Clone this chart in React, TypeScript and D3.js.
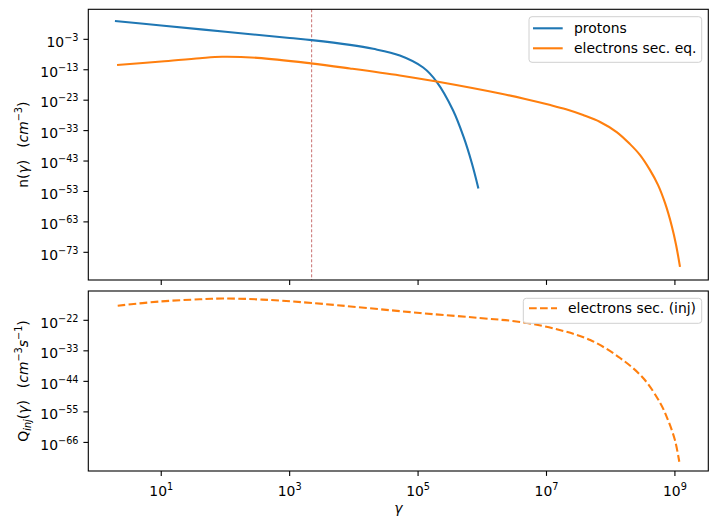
import React from 'react'
import * as d3 from 'd3'

// protons
const protonGamma = [1.9, 10, 100, 1000, 2200, 8700, 2e4, 5.2e4, 1.2e5, 1.95e5, 3.5e5, 5.1e5, 6.9e5, 8.7e5]
const protonN = [1.0e3, 35, 0.31, 2.8e-3, 5.6e-4, 1.55e-5, 7.6e-7, 4.7e-9, 5.4e-13, 1.1e-17, 5e-27, 1e-35, 1.6e-44, 1e-52]

// secondary electrons, equilibrium
const eqGamma = [2.05, 10, 40, 89, 316, 2140, 8700, 5.2e4, 1.95e5, 1.9e6, 4.65e6, 1.15e7, 2.02e7, 3.72e7, 6.84e7, 1.24e8, 2e8, 2.87e8, 4.1e8, 5.47e8, 7.03e8, 8.95e8, 1.045e9, 1.2e9]
const eqN = [3.5e-12, 5e-11, 6.3e-10, 1.8e-9, 8e-10, 1.26e-11, 2.7e-13, 1.35e-15, 1.3e-17, 1.5e-21, 2.5e-23, 2.5e-25, 1.0e-26, 1.26e-28, 7e-31, 3.4e-34, 3.6e-38, 8.7e-42, 1e-46, 1.2e-51, 1.4e-57, 3.9e-65, 2.2e-71, 1.6e-78]

// secondary electrons, injection
const injGamma = [2.1, 9.5, 40, 91, 347, 2240, 1.07e5, 9.1e5, 3.9e6, 1.6e7, 4.8e7, 1.4e8, 3.2e8, 5.9e8, 7.8e8, 1e9, 1.17e9]
const injQ = [1.8e-17, 6e-16, 3.7e-15, 7.2e-15, 3.2e-15, 1.7e-16, 4.3e-20, 6.8e-22, 2.5e-23, 3.2e-26, 8e-30, 2.6e-36, 1.6e-43, 1.6e-52, 1.2e-58, 7.4e-66, 1.1e-73]

const xTickExp = [1, 3, 5, 7, 9]
const topTickExp = [-3, -13, -23, -33, -43, -53, -63, -73]
const botTickExp = [-22, -33, -44, -55, -66]
const markerGamma = 2200

const BLUE = '#1f77b4'
const ORANGE = '#ff7f0e'
const FONT = 'DejaVu Sans'
const FS = 13.9

const L = 88.3
const R = 708.3
const top1 = 9.3
const bot1 = 280
const top2 = 291
const bot2 = 471

const x = d3.scaleLog().domain([10 ** -0.136, 10 ** 9.52]).range([L, R])
const yTop = d3.scaleLog().domain([10 ** -82.1, 10 ** 6.87]).range([bot1, top1])
const yBot = d3.scaleLog().domain([10 ** -76.3, 10 ** -11.44]).range([bot2, top2])

function path(xs: number[], ys: number[], ys2: d3.ScaleLogarithmic<number, number>) {
  const pts = xs.map((g, i) => [g, ys[i]] as [number, number])
  return d3.line<[number, number]>()
    .x(d => x(d[0]))
    .y(d => ys2(d[1]))
    .curve(d3.curveCatmullRom.alpha(0.5))(pts) || ''
}

function Pow({ exp, ...rest }: any) {
  return (
    <text {...rest} fontFamily={FONT} fontSize={FS} fill='#000'>
      10<tspan fontSize={FS * 0.7} dy={-6}>{exp < 0 ? '\u2212' + Math.abs(exp) : exp}</tspan>
    </text>
  )
}

function YAxis({ scale, exps }: any) {
  return (
    <g>
      {exps.map((e: number) => {
        const yy = scale(10 ** e)
        return (
          <g key={e}>
            <line x1={L - 4.9} x2={L} y1={yy} y2={yy} stroke='#000' strokeWidth={1.1} />
            <Pow exp={e} x={L - 9.8} y={yy + 7.2} textAnchor='end' />
          </g>
        )
      })}
    </g>
  )
}

export default function App() {
  return (
    <svg width={717} height={530} style={{ display: 'block', position: 'absolute', left: 0, top: 0 }}>
      <rect width={717} height={530} fill='#fff' />

      {/* top panel */}
      <line x1={x(markerGamma)} x2={x(markerGamma)} y1={top1} y2={bot1} stroke='#b03030' strokeWidth={0.7} strokeDasharray='3,2' />
      <path d={path(protonGamma, protonN, yTop)} fill='none' stroke={BLUE} strokeWidth={2.1} />
      <path d={path(eqGamma, eqN, yTop)} fill='none' stroke={ORANGE} strokeWidth={2.1} />
      <rect x={L} y={top1} width={R - L} height={bot1 - top1} fill='none' stroke='#000' strokeWidth={1.1} />
      <YAxis scale={yTop} exps={topTickExp} />
      {xTickExp.map(e => (
        <line key={e} x1={x(10 ** e)} x2={x(10 ** e)} y1={bot1} y2={bot1 + 4.9} stroke='#000' strokeWidth={1.1} />
      ))}

      <g>
        <rect x={529} y={16.7} width={172.7} height={45.6} rx={3} fill='#fff' fillOpacity={0.8} stroke='#d0d0d0' strokeWidth={1} />
        <line x1={533} x2={562.7} y1={28.3} y2={28.3} stroke={BLUE} strokeWidth={2.1} />
        <text x={574} y={33.3} fontFamily={FONT} fontSize={FS}>protons</text>
        <line x1={533} x2={562.7} y1={48.3} y2={48.3} stroke={ORANGE} strokeWidth={2.1} />
        <text x={574} y={53.3} fontFamily={FONT} fontSize={FS}>electrons sec. eq.</text>
      </g>

      <text transform={`translate(27.5,${(top1 + bot1) / 2}) rotate(-90)`} textAnchor='middle' fontFamily={FONT} fontSize={FS}>
        n(<tspan fontStyle='italic'>γ</tspan>)<tspan dx={12}>(</tspan><tspan fontStyle='italic'>cm</tspan><tspan fontSize={FS * 0.7} dy={-6}>−3</tspan><tspan dy={6}>)</tspan>
      </text>

      {/* bottom panel */}
      <path d={path(injGamma, injQ, yBot)} fill='none' stroke={ORANGE} strokeWidth={2.1} strokeDasharray='7.7,3.3' />
      <rect x={L} y={top2} width={R - L} height={bot2 - top2} fill='none' stroke='#000' strokeWidth={1.1} />
      <YAxis scale={yBot} exps={botTickExp} />
      {xTickExp.map(e => (
        <g key={e}>
          <line x1={x(10 ** e)} x2={x(10 ** e)} y1={bot2} y2={bot2 + 4.9} stroke='#000' strokeWidth={1.1} />
          <Pow exp={e} x={x(10 ** e)} y={496} textAnchor='middle' />
        </g>
      ))}

      <g>
        <rect x={523.3} y={298.3} width={178.4} height={25} rx={3} fill='#fff' fillOpacity={0.8} stroke='#d0d0d0' strokeWidth={1} />
        <line x1={529} x2={557} y1={308.3} y2={308.3} stroke={ORANGE} strokeWidth={2.1} strokeDasharray='7.7,3.3' />
        <text x={568} y={313.3} fontFamily={FONT} fontSize={FS}>electrons sec. (inj)</text>
      </g>

      <text transform={`translate(27.5,${(top2 + bot2) / 2}) rotate(-90)`} textAnchor='middle' fontFamily={FONT} fontSize={FS}>
        Q<tspan fontSize={FS * 0.7} fontStyle='italic' dy={3}>inj</tspan><tspan dy={-3}>(</tspan><tspan fontStyle='italic'>γ</tspan>)<tspan dx={12}>(</tspan><tspan fontStyle='italic'>cm</tspan><tspan fontSize={FS * 0.7} dy={-6}>−3</tspan><tspan fontStyle='italic' dy={6}>s</tspan><tspan fontSize={FS * 0.7} dy={-6}>−1</tspan><tspan dy={6}>)</tspan>
      </text>

      <text x={(L + R) / 2} y={513} textAnchor='middle' fontFamily={FONT} fontSize={FS} fontStyle='italic'>γ</text>
    </svg>
  )
}
